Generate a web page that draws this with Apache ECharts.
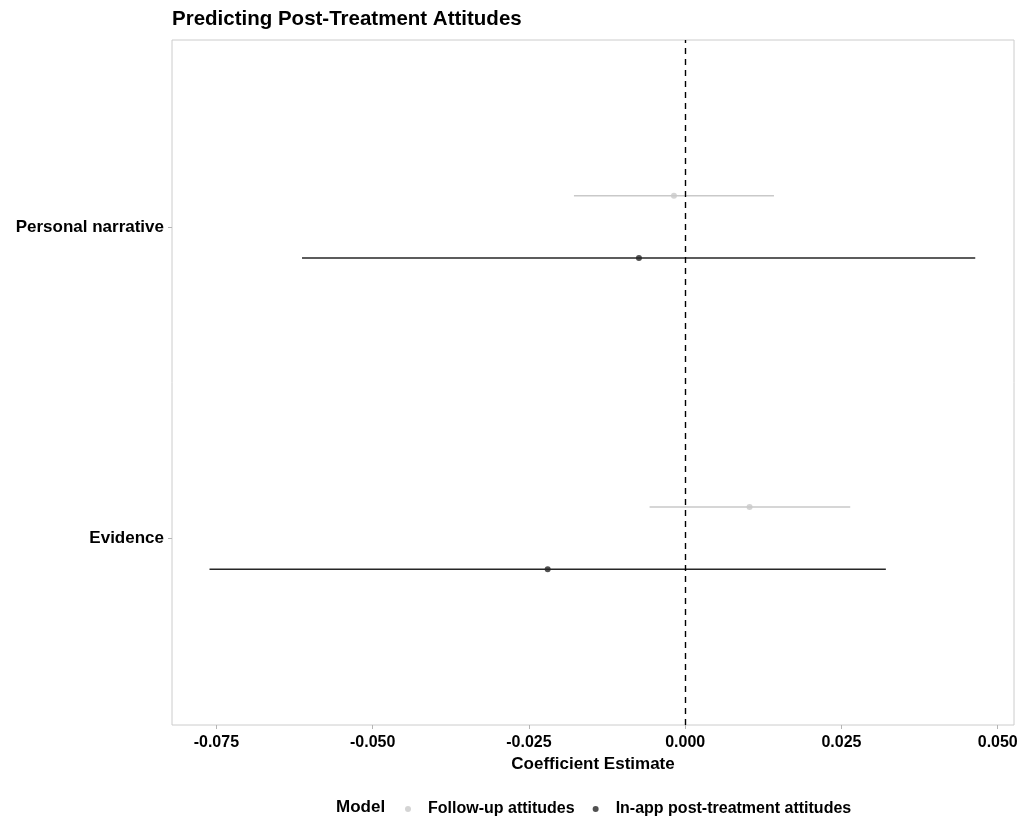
<!DOCTYPE html>
<html>
<head>
<meta charset="utf-8">
<script src="https://cdn.jsdelivr.net/npm/echarts@6/dist/echarts.min.js"></script>
<style>
  html, body { margin: 0; padding: 0; background: #fff; }
  #chart { width: 1023px; height: 816px; }
</style>
</head>
<body>
<div id="chart"></div>
<script>
// Coefficient estimates with confidence intervals, per predictor and model
const categories = ['Evidence', 'Personal narrative'];
const modelNames = ['Follow-up attitudes', 'In-app post-treatment attitudes'];

const followUpEst = [0.0103, -0.0018];
const followUpLow = [-0.0057, -0.0178];
const followUpHigh = [0.0264, 0.0142];

const inAppEst = [-0.0220, -0.0074];
const inAppLow = [-0.0761, -0.0613];
const inAppHigh = [0.0321, 0.0464];

const xTicks = [-0.075, -0.05, -0.025, 0, 0.025, 0.05];

const FONT = '"Liberation Sans", Arial, sans-serif';
const LIGHT = '#c9c9c9';
const DARK = '#262626';
const DODGE = 0.1;

function buildIntervals(low, high, offset) {
  return categories.map((c, i) => [low[i], high[i], i + 1 + offset]);
}
function buildPoints(est, offset) {
  return categories.map((c, i) => [est[i], i + 1 + offset]);
}

function intervalRenderer(color) {
  return function (params, api) {
    const a = api.coord([api.value(0), api.value(2)]);
    const b = api.coord([api.value(1), api.value(2)]);
    return {
      type: 'line',
      shape: { x1: a[0], y1: a[1], x2: b[0], y2: b[1] },
      style: { stroke: color, lineWidth: 1.6 }
    };
  };
}

const chart = echarts.init(document.getElementById('chart'), null, { renderer: 'canvas' });

chart.setOption({
  animation: false,
  backgroundColor: '#ffffff',
  title: [
    {
      text: 'Predicting Post-Treatment Attitudes',
      left: 167, top: 4,
      textStyle: { fontFamily: FONT, fontSize: 20.5, fontWeight: 'bold', color: '#000' }
    },
    {
      text: 'Model',
      left: 331, top: 794,
      textStyle: { fontFamily: FONT, fontSize: 17, fontWeight: 'bold', color: '#000' }
    }
  ],
  legend: {
    data: modelNames,
    left: 400, top: 796,
    icon: 'circle',
    itemWidth: 30, itemHeight: 6,
    itemGap: 18,
    textStyle: { fontFamily: FONT, fontSize: 16, fontWeight: 'bold', color: '#000' }
  },
  grid: {
    left: 172, right: 9, top: 40, bottom: 91,
    show: true, borderColor: '#cccccc', borderWidth: 1, backgroundColor: '#fff'
  },
  xAxis: {
    type: 'value',
    min: -0.0821, max: 0.0526,
    name: 'Coefficient Estimate',
    nameLocation: 'middle', nameGap: 29,
    nameTextStyle: { fontFamily: FONT, fontSize: 17, fontWeight: 'bold', color: '#000' },
    axisLine: { show: false, onZero: false },
    splitLine: { show: false },
    axisTick: { show: true, length: 4, lineStyle: { color: '#b5b5b5' }, customValues: xTicks },
    axisLabel: {
      customValues: xTicks,
      margin: 10,
      fontFamily: FONT, fontSize: 16, fontWeight: 'bold', color: '#000',
      formatter: v => v.toFixed(3)
    }
  },
  yAxis: {
    type: 'value',
    min: 0.4, max: 2.6,
    axisLine: { show: false, onZero: false },
    splitLine: { show: false },
    axisTick: { show: true, length: 4, lineStyle: { color: '#b5b5b5' }, customValues: [1, 2] },
    axisLabel: {
      customValues: [1, 2],
      margin: 8,
      fontFamily: FONT, fontSize: 17, fontWeight: 'bold', color: '#000',
      formatter: v => categories[Math.round(v) - 1] || ''
    }
  },
  series: [
    {
      name: modelNames[0] + ' CI',
      type: 'custom',
      renderItem: intervalRenderer(LIGHT),
      encode: { x: [0, 1], y: 2 },
      data: buildIntervals(followUpLow, followUpHigh, DODGE),
      silent: true, z: 2
    },
    {
      name: modelNames[1] + ' CI',
      type: 'custom',
      renderItem: intervalRenderer(DARK),
      encode: { x: [0, 1], y: 2 },
      data: buildIntervals(inAppLow, inAppHigh, -DODGE),
      silent: true, z: 2
    },
    {
      name: modelNames[0],
      type: 'scatter',
      symbol: 'circle', symbolSize: 6,
      itemStyle: { color: LIGHT },
      data: buildPoints(followUpEst, DODGE),
      z: 4,
      markLine: {
        silent: true,
        symbol: 'none',
        label: { show: false },
        lineStyle: { type: [6, 5], color: '#000', width: 1.4 },
        data: [{ xAxis: 0 }]
      }
    },
    {
      name: modelNames[1],
      type: 'scatter',
      symbol: 'circle', symbolSize: 6,
      itemStyle: { color: DARK },
      data: buildPoints(inAppEst, -DODGE),
      z: 4
    }
  ]
});
</script>
</body>
</html>
